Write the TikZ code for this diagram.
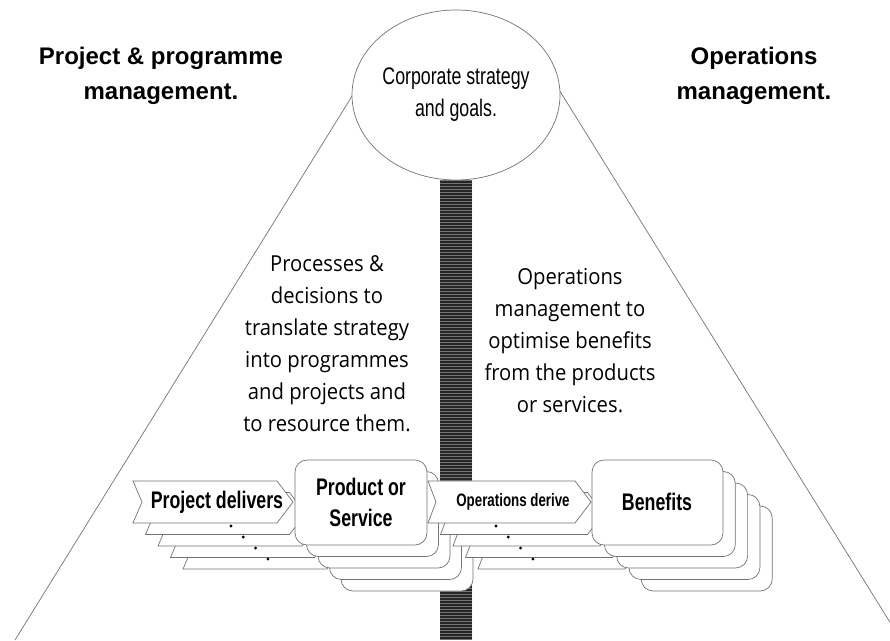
\documentclass[tikz,border=0pt]{standalone}
\usepackage{fontspec}
\usetikzlibrary{shapes.geometric,patterns}
\newfontfamily\titlefont{Liberation Sans}
\newfontfamily\narrowfont[FakeStretch=0.74]{Liberation Sans}
\newfontfamily\handfont[FakeStretch=0.92]{Open Sans}

\begin{document}
\begin{tikzpicture}[x=1pt,y=-1pt,
        linea/.style={draw=black!55, line width=0.7pt},
        flecha/.style={linea, fill=white},
        caja/.style={linea, fill=white, rounded corners=12pt},
        titulo/.style={align=center, font=\titlefont\bfseries\fontsize{24}{35}\selectfont},
        mano/.style={align=center, font=\handfont\fontsize{22}{32}\selectfont},
        etiq/.style={align=center, font=\narrowfont\bfseries\fontsize{24}{31}\selectfont}]
        %colores
        \colorlet{barra}{black!85}

        % Marco
        \clip (0,0) rectangle (890,640);
        \fill[white] (0,0) rectangle (890,640);

        % Triangulo
        \coordinate (topL) at (362,80);
        \coordinate (topR) at (553,80);
        \coordinate (baseL) at (15,640);
        \coordinate (baseR) at (901,640);
        \draw[linea] (topL) -- (baseL);
        \draw[linea] (topR) -- (baseR);

        % Barra central
        \fill[barra] (440,180) rectangle (472,640);
        \fill[pattern=horizontal lines, pattern color=black!55] (440,180) rectangle (472,640);

        % Elipse
        \node[linea, fill=white, ellipse, minimum width=198pt, minimum height=170pt, inner sep=0pt,
              align=center, font=\narrowfont\fontsize{24}{32}\selectfont] (corp) at (456,95)
              {Corporate strategy\\and goals.};

        % Titulos
        \node[titulo] (pm) at (161,76) {Project \& programme\\management.};
        \node[titulo] (om) at (754,76) {Operations\\management.};

        % Textos
        \node[mano] (proc) at (327,344) {Processes \&\\decisions to\\translate strategy\\into programmes\\and projects and\\to resource them.};
        \node[mano] (oper) at (570,341) {Operations\\management to\\optimise benefits\\from the products\\or services.};

        % Pila proyecto
        \foreach \k in {4,3,2,1,0}
            \draw[flecha, shift={(12.5*\k,11.5*\k)}] (133,481) -- (277,481) -- (293,502) -- (277,523) -- (133,523) -- (142,502) -- cycle;
        \foreach \k in {0,...,3}
            \fill (231+12.3*\k,526+11*\k) circle (1.6pt);
        \foreach \k in {4,3,2,1,0}
            \draw[caja, shift={(11.5*\k,11.5*\k)}] (295,460) rectangle (427,545);

        % Pila operaciones
        \foreach \k in {4,3,2,1,0}
            \draw[flecha, shift={(12.5*\k,11.5*\k)}] (428,481) -- (575,481) -- (591,502) -- (575,523) -- (428,523) -- (436,502) -- cycle;
        \foreach \k in {0,...,3}
            \fill (496+12.3*\k,526+11*\k) circle (1.6pt);
        \foreach \k in {4,3,2,1,0}
            \draw[caja, shift={(12.3*\k,11.5*\k)}] (592,460) rectangle (723,545);

        % Etiquetas
        \node[etiq] (pd) at (217,502) {Project delivers};
        \node[etiq] (prod) at (361,502) {Product or\\Service};
        \node[etiq, font=\narrowfont\bfseries\fontsize{18}{22}\selectfont] (od) at (513,502) {Operations derive};
        \node[etiq] (ben) at (657,502) {Benefits};
    \end{tikzpicture}
\end{document}
